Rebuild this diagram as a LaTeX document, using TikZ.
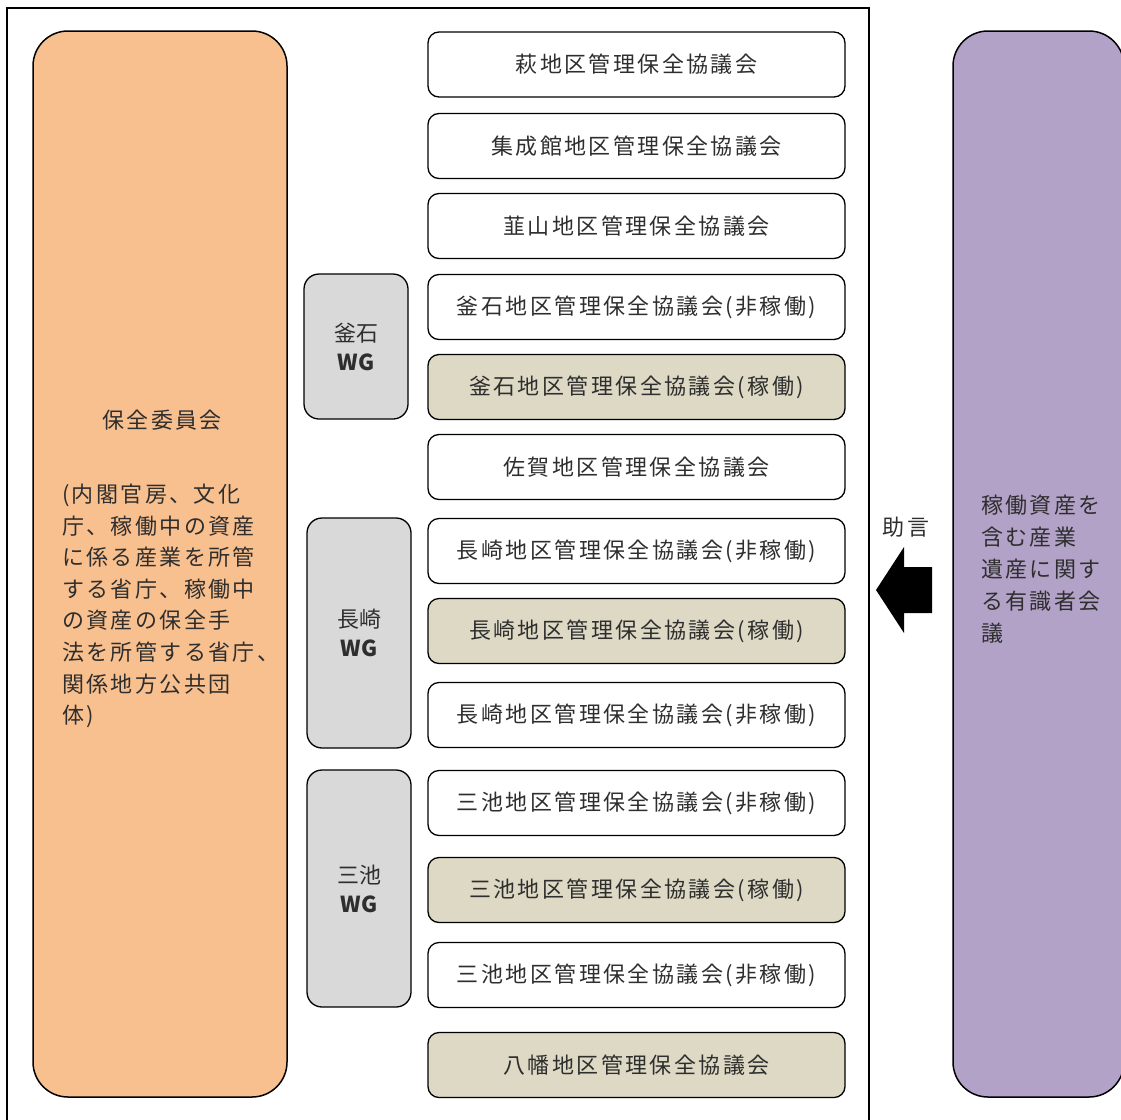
\documentclass[tikz,border=0pt]{standalone}
\usepackage{fontspec}
\newfontfamily\jp[LetterSpace=11]{Noto Sans CJK JP}
\newfontfamily\jpn{Noto Sans CJK JP}
\definecolor{orangefill}{HTML}{F9C08F}
\definecolor{purplefill}{HTML}{B2A2C7}
\definecolor{tanfill}{HTML}{DDD9C4}
\definecolor{wgfill}{HTML}{D9D9D9}
\definecolor{txt}{HTML}{2E2E2E}
\begin{document}
\begin{tikzpicture}[x=1pt,y=-1pt,
  every node/.style={inner sep=0pt,outer sep=0pt},
  council/.style={draw=black,line width=1.3pt,rounded corners=11pt,
    minimum width=417pt,minimum height=65pt,text=txt,
    font=\jp\fontsize{22}{26}\selectfont},
  active/.style={council,fill=tanfill},
  wgbox/.style={draw=black,line width=1.3pt,rounded corners=15pt,fill=wgfill,
    minimum width=104pt,align=center,text=txt,
    font=\jpn\fontsize{22}{29}\selectfont},
  bigbox/.style={draw=black,line width=1.5pt,rounded corners=35pt,
    minimum height=1066pt},
  bodytext/.style={text=txt,align=left,font=\jp\fontsize{22}{31.6}\selectfont}]
\useasboundingbox (0,0) rectangle (1121,1119);
% outer frame
\draw[line width=2pt] (7,1125) -- (7,8) -- (869,8) -- (869,1125);
% left and right big boxes
\node[bigbox,fill=orangefill,minimum width=254pt] (hozen) at (160,564) {};
\node[bigbox,fill=purplefill,minimum width=171pt] (yushiki) at (1038.5,564) {};
\node[text=txt,font=\jp\fontsize{22}{26}\selectfont] (hozentitle) at (162,420) {保全委員会};
\node[bodytext,anchor=north west] (hozenbody) at (62,484) {(内閣官房、文化\\庁、稼働中の資産\\に係る産業を所管\\する省庁、稼働中\\の資産の保全手\\法を所管する省庁、\\関係地方公共団\\体)};
\node[bodytext,anchor=north west,font=\jp\fontsize{22}{32}\selectfont] (yushikibody) at (981,495) {稼働資産を\\含む産業\\遺産に関す\\る有識者会\\議};
% councils
\node[council] (hagi) at (636.5,64.5) {萩地区管理保全協議会};
\node[council] (shusei) at (636.5,146) {集成館地区管理保全協議会};
\node[council] (nira) at (636.5,226) {韮山地区管理保全協議会};
\node[council] (kamaA) at (636.5,307) {釜石地区管理保全協議会(非稼働)};
\node[active] (kamaB) at (636.5,387) {釜石地区管理保全協議会(稼働)};
\node[council] (saga) at (636.5,467) {佐賀地区管理保全協議会};
\node[council] (nagaA) at (636.5,551) {長崎地区管理保全協議会(非稼働)};
\node[active] (nagaB) at (636.5,631) {長崎地区管理保全協議会(稼働)};
\node[council] (nagaC) at (636.5,715) {長崎地区管理保全協議会(非稼働)};
\node[council] (mikeA) at (636.5,803) {三池地区管理保全協議会(非稼働)};
\node[active] (mikeB) at (636.5,890) {三池地区管理保全協議会(稼働)};
\node[council] (mikeC) at (636.5,975) {三池地区管理保全協議会(非稼働)};
\node[active] (yawata) at (636.5,1065) {八幡地区管理保全協議会};
% working groups
\node[wgbox,minimum height=145pt] (wgkama) at (356,346.5) {釜石\\\textbf{WG}};
\node[wgbox,minimum height=230pt] (wgnaga) at (359,633) {長崎\\\textbf{WG}};
\node[wgbox,minimum height=237pt] (wgmike) at (359,888.5) {三池\\\textbf{WG}};
% advice arrow
\node[text=txt,font=\jp\fontsize{22}{26}\selectfont] (jogen) at (906,527) {助言};
\fill[black] (876,590) -- (904,547) -- (904,567) -- (932,567) -- (932,613) -- (904,613) -- (904,633) -- cycle;
\end{tikzpicture}
\end{document}
